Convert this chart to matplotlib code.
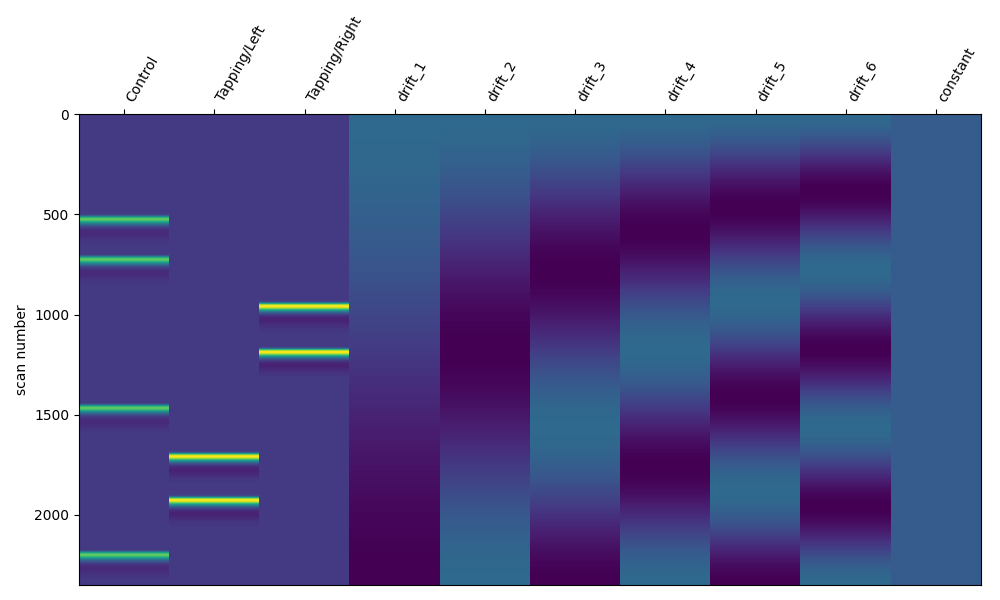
import math
import numpy as np
import matplotlib
matplotlib.use("Agg")
import matplotlib.pyplot as plt

# ---- data ----
column_names = ["Control", "Tapping/Left", "Tapping/Right",
                "drift_1", "drift_2", "drift_3", "drift_4", "drift_5", "drift_6",
                "constant"]
n_scans = 2350                 # number of rows (scans)
tr = 0.16                      # seconds per scan
stim_duration = 1.0            # seconds
# event onsets, in scans, for each condition
onsets_control = [494, 694, 1434, 2165]
onsets_left = [1675, 1893]
onsets_right = [927, 1155]
drift_orders = [1, 2, 3, 4, 5, 6]   # cosine drift orders

# ---- build the design matrix (SPM HRF, cosine drifts, constant) ----
def gamma_pdf(t, a):
    out = np.zeros_like(t)
    m = t > 0
    out[m] = np.exp((a - 1) * np.log(t[m]) - t[m] - math.lgamma(a))
    return out

def spm_hrf(dt, length=32.0):
    t = np.arange(0, length, dt)
    h = gamma_pdf(t, 6.0) - 0.167 * gamma_pdf(t, 16.0)
    return h / h.sum()

def regressor(onsets):
    over = 20
    dt = tr / over
    box = np.zeros(n_scans * over)
    for o in onsets:
        s = int(round(o * over))
        e = s + int(round(stim_duration / dt))
        box[s:e] = 1.0
    conv = np.convolve(box, spm_hrf(dt))[: n_scans * over]
    return conv[::over]

scan_idx = np.arange(n_scans)
cols = [regressor(onsets_control), regressor(onsets_left), regressor(onsets_right)]
for k in drift_orders:
    cols.append(np.sqrt(2.0 / n_scans) * np.cos(np.pi / n_scans * (scan_idx + 0.5) * k))
cols.append(np.ones(n_scans))
dm = np.column_stack(cols)
dm = dm / np.sqrt(np.sum(dm ** 2, axis=0))

# ---- plot ----
fig = plt.figure(figsize=(10, 6), dpi=100)
ax = fig.add_axes([0.079, 0.025, 0.902, 0.785])
ax.imshow(dm, interpolation="nearest", aspect="auto", cmap="viridis")
ax.set_ylabel("scan number")
ax.set_xticks(range(len(column_names)))
ax.set_xticklabels(column_names, rotation=60, ha="left")
ax.xaxis.tick_top()
fig.savefig("out.png", dpi=100)
